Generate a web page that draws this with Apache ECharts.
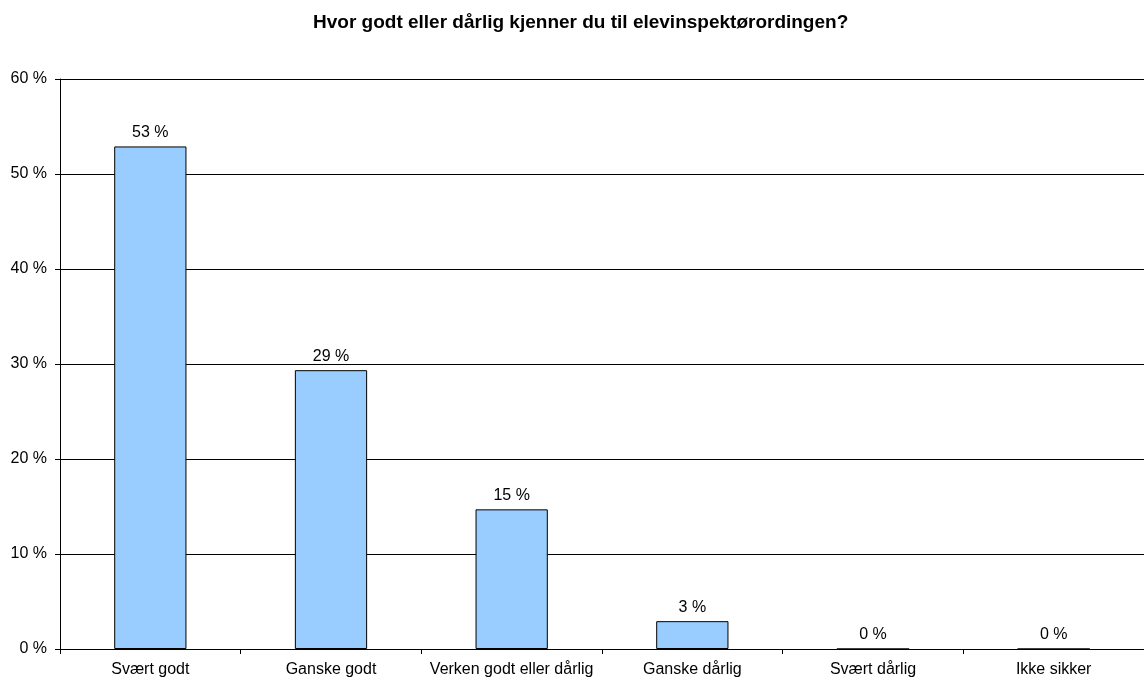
<!DOCTYPE html>
<html>
<head>
<meta charset="utf-8">
<script src="https://cdn.jsdelivr.net/npm/echarts@6/dist/echarts.min.js"></script>
<style>
html,body{margin:0;padding:0;background:#fff;}
#chart{width:1144px;height:683px;}
</style>
</head>
<body>
<div id="chart"></div>
<script>
const titleText = 'Hvor godt eller dårlig kjenner du til elevinspektørordingen?';
const categories = ['Svært godt', 'Ganske godt', 'Verken godt eller dårlig', 'Ganske dårlig', 'Svært dårlig', 'Ikke sikker'];
const values = [52.9, 29.35, 14.7, 2.93, 0, 0];
const yTicks = [0, 10, 20, 30, 40, 50, 60];

const chart = echarts.init(document.getElementById('chart'), null, {renderer: 'canvas'});
const font = 'Liberation Sans, Arial, sans-serif';
chart.setOption({
  animation: false,
  backgroundColor: '#fff',
  title: {
    text: titleText,
    left: 308,
    top: 8,
    textStyle: {fontFamily: font, fontSize: 19, fontWeight: 'bold', color: '#000'}
  },
  grid: {left: 60, top: 79, width: 1089, height: 570, containLabel: false},
  xAxis: {
    type: 'category',
    data: categories,
    boundaryGap: true,
    axisLine: {lineStyle: {color: '#000', width: 1}},
    axisTick: {show: true, length: 5, inside: false, lineStyle: {color: '#000'}},
    axisLabel: {fontFamily: font, fontSize: 16, color: '#000', margin: 13, interval: 0}
  },
  yAxis: {
    type: 'value',
    min: yTicks[0],
    max: yTicks[yTicks.length - 1],
    interval: 10,
    axisLine: {show: true, lineStyle: {color: '#000', width: 1}},
    axisTick: {show: true, length: 5, lineStyle: {color: '#000'}},
    axisLabel: {fontFamily: font, fontSize: 16, color: '#000', margin: 13, formatter: '{value} %'},
    splitLine: {show: true, lineStyle: {color: '#000', width: 1}}
  },
  series: [{
    type: 'bar',
    data: values,
    barWidth: '40%',
    itemStyle: {color: '#99CCFF', borderColor: '#000', borderWidth: 1},
    label: {
      show: true,
      position: 'top',
      distance: 6,
      fontFamily: font,
      fontSize: 16,
      color: '#000',
      formatter: p => Math.round(p.value) + ' %'
    }
  }]
});
</script>
</body>
</html>
